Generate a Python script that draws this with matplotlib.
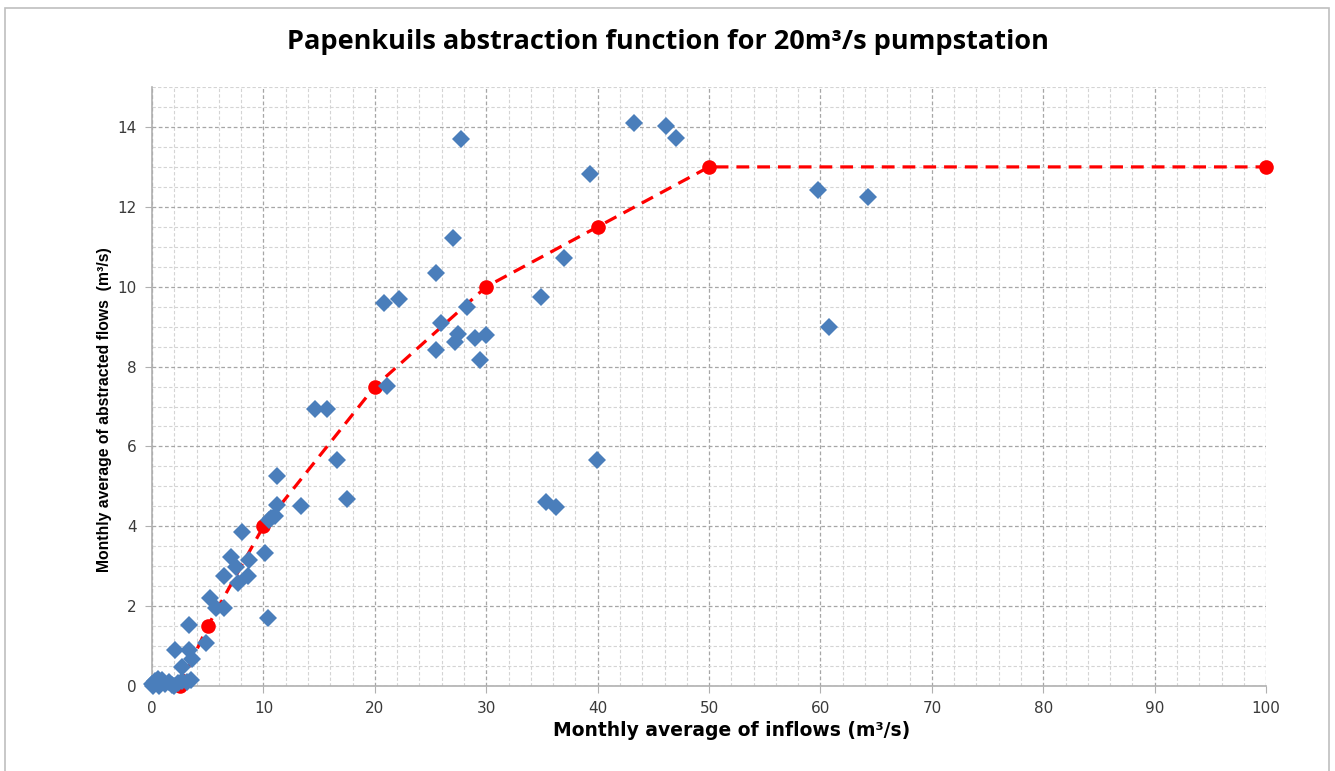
import numpy as np
import matplotlib.pyplot as plt
from matplotlib.ticker import MultipleLocator
from matplotlib.patches import Rectangle

# Observed monthly flows (m3/s)
inflow = [0.0, 0.3, 0.6, 0.9, 1.2, 1.5, 1.8, 2.0, 2.3, 2.7, 3.1, 3.5, 0.1, 0.5,
          2.1, 2.7, 3.3, 3.6, 3.3, 4.8,
          5.2, 5.7, 6.5, 6.5, 7.1, 7.5, 7.7, 8.6, 8.7, 8.1, 10.1, 10.4, 10.5, 10.7,
          11.0, 11.2, 11.2, 13.4, 14.6, 15.7, 16.6, 17.5,
          20.8, 21.1, 22.2, 25.5, 25.5, 25.9, 27.0, 27.2, 27.5, 27.7, 28.3, 29.0, 29.4, 30.0,
          34.9, 35.4, 36.3, 37.0, 39.3, 39.9, 43.3, 46.1, 47.0, 59.8, 60.8, 64.3]
abstracted = [0.05, 0.12, 0.0, 0.15, 0.05, 0.1, 0.02, 0.0, 0.08, 0.12, 0.1, 0.15, 0.0, 0.18,
              0.9, 0.48, 0.9, 0.67, 1.53, 1.09,
              2.2, 1.95, 1.95, 2.75, 3.24, 2.97, 2.59, 2.75, 3.16, 3.85, 3.34, 1.71, 4.16, 4.2,
              4.27, 4.53, 5.26, 4.52, 6.93, 6.93, 5.65, 4.68,
              9.6, 7.51, 9.68, 10.34, 8.41, 9.08, 11.21, 8.62, 8.82, 13.7, 9.5, 8.72, 8.16, 8.79,
              9.75, 4.6, 4.48, 10.72, 12.81, 5.66, 14.09, 14.02, 13.73, 12.42, 9.0, 12.25]

# Abstraction function
func_in = [2.5, 5, 10, 20, 30, 40, 50, 100]
func_out = [0, 1.5, 4, 7.5, 10, 11.5, 13, 13]

plt.rcParams['font.family'] = ['DejaVu Sans']

fig = plt.figure(figsize=(13.35, 7.71), dpi=100)
ax = fig.add_axes([0.1139, 0.1102, 0.8345, 0.7769])

ax.plot(func_in, func_out, color='#ff0000', linestyle=(0, (4, 2.5)), linewidth=2.3,
        marker='o', markersize=10.5, markeredgewidth=0, zorder=3, clip_on=False)
ax.plot(inflow, abstracted, linestyle='none', marker='D', markersize=9,
        color='#4a7ebb', markeredgewidth=0, zorder=4, clip_on=False)

ax.set_xlim(0, 100)
ax.set_ylim(0, 15)
ax.xaxis.set_major_locator(MultipleLocator(10))
ax.xaxis.set_minor_locator(MultipleLocator(2))
ax.yaxis.set_major_locator(MultipleLocator(2))
ax.yaxis.set_minor_locator(MultipleLocator(0.5))
ax.set_yticks(np.arange(0, 15, 2))

ax.grid(which='major', color='#a6a6a6', linestyle=(0, (3, 2)), linewidth=0.9)
ax.grid(which='minor', color='#d4d4d4', linestyle=(0, (3, 2)), linewidth=0.8)
ax.set_axisbelow(True)

for side in ['top', 'right']:
    ax.spines[side].set_visible(False)
for side in ['left', 'bottom']:
    ax.spines[side].set_color('#b0b0b0')
    ax.spines[side].set_linewidth(1.2)

ax.tick_params(which='major', length=5, color='#b0b0b0', labelsize=11,
               labelcolor='#3a3a3a', pad=6)
ax.tick_params(which='minor', length=0)

ax.set_xlabel('Monthly average of inflows (m³/s)', fontsize=13.5, fontweight='bold',
              family=['DejaVu Sans'])
ax.set_ylabel('Monthly average of abstracted flows  (m³/s)', fontsize=11.3, fontweight='bold',
              family=['Liberation Sans', 'DejaVu Sans'])
ax.xaxis.set_label_coords(0.52, -0.058)
ax.yaxis.set_label_coords(-0.036, 0.461)

fig.text(0.5, 0.946, 'Papenkuils abstraction function for 20m³/s pumpstation',
         ha='center', va='center', fontsize=19.5, fontweight='bold',
         family=['Open Sans', 'DejaVu Sans'])

# chart border
fig.patches.append(Rectangle((5 / 1335, -0.01), 1324 / 1335, 1.01 - 8 / 771,
                             transform=fig.transFigure, fill=False,
                             edgecolor='#bfbfbf', linewidth=1.2))

fig.savefig('out.png', dpi=100)
